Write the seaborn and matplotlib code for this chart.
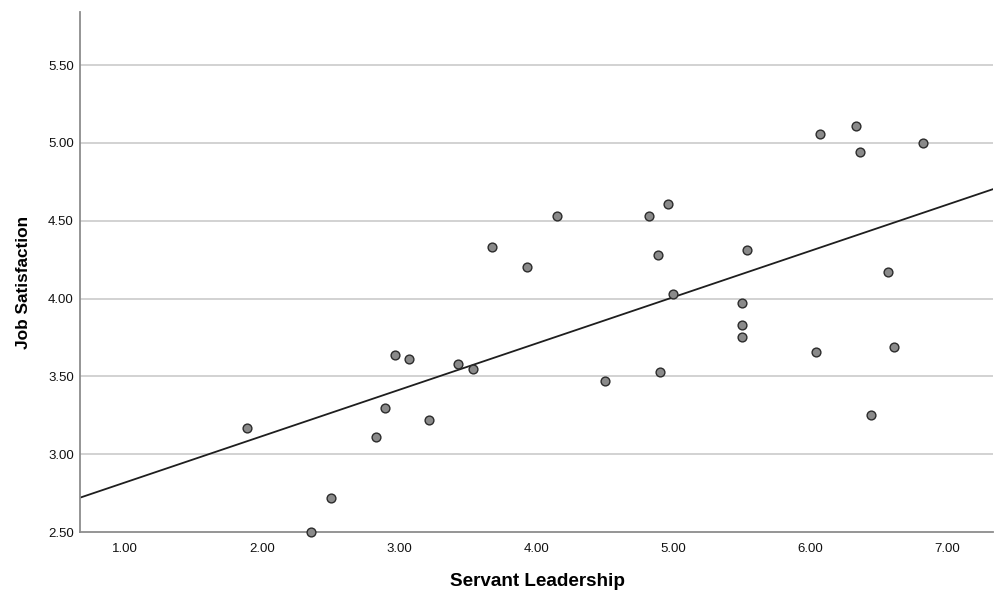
import numpy as np
import pandas as pd
import matplotlib
matplotlib.use("Agg")
import matplotlib.pyplot as plt
import seaborn as sns

# --- DATA ---
servant_leadership = [1.89, 2.36, 2.50, 2.97, 3.07, 2.90, 2.83, 3.22, 3.43, 3.54,
                      4.50, 4.90, 5.50, 5.50, 5.50, 6.04, 6.61, 6.44, 3.68, 3.93,
                      4.15, 4.82, 4.96, 4.89, 5.54, 5.00, 6.07, 6.33, 6.36, 6.82, 6.57]
job_satisfaction = [3.17, 2.50, 2.72, 3.64, 3.61, 3.30, 3.11, 3.22, 3.58, 3.55,
                    3.47, 3.53, 3.97, 3.83, 3.75, 3.66, 3.69, 3.25, 4.33, 4.20,
                    4.53, 4.53, 4.61, 4.28, 4.31, 4.03, 5.06, 5.11, 4.94, 5.00, 4.17]
x_ticks = [1, 2, 3, 4, 5, 6, 7]
y_ticks = [2.5, 3.0, 3.5, 4.0, 4.5, 5.0, 5.5]

df = pd.DataFrame({"Servant Leadership": servant_leadership,
                   "Job Satisfaction": job_satisfaction})

sns.set_style("white")
plt.rcParams["font.family"] = ["Liberation Sans", "DejaVu Sans"]

fig = plt.figure(figsize=(9.97, 6.04), dpi=100)
ax = fig.add_axes([0.0802, 0.119, 0.9158, 0.861])
ax.set_xlim(0.671, 7.333)
ax.set_ylim(2.5, 5.84)

for yv in y_ticks[1:]:
    ax.axhline(yv, color="#cfcfcf", lw=1.3, zorder=0)

sns.regplot(data=df, x="Servant Leadership", y="Job Satisfaction", ax=ax,
            ci=None, truncate=False,
            scatter_kws=dict(s=40, color="#8a8a8a", edgecolors="#2b2b2b",
                             linewidths=1.0, alpha=1, zorder=3, clip_on=False),
            line_kws=dict(color="#1e1e1e", lw=1.3, zorder=2))

ax.set_xlim(0.671, 7.333)
ax.set_ylim(2.5, 5.84)
ax.set_xticks(x_ticks)
ax.set_yticks(y_ticks)
ax.set_xticklabels([f"{v:.2f}" for v in x_ticks])
ax.set_yticklabels([f"{v:.2f}" for v in y_ticks])
ax.tick_params(length=0, labelsize=9.5, colors="#111111")
ax.tick_params(axis="y", pad=4.5)
ax.tick_params(axis="x", pad=8)

for side in ["top", "right"]:
    ax.spines[side].set_visible(False)
for side in ["left", "bottom"]:
    ax.spines[side].set_color("#8c8c8c")
    ax.spines[side].set_linewidth(1.3)

ax.set_xlabel("Servant Leadership", fontsize=13.6, fontweight="bold", color="black")
ax.set_ylabel("Job Satisfaction", fontsize=12.4, fontweight="bold", color="black")
# label centres in figure pixels: y label at x~24, y~282; x label at y~582
ax.yaxis.set_label_coords(24 / 997, 1 - 282 / 604, transform=fig.transFigure)
ax.xaxis.set_label_coords(537 / 997, 1 - 582 / 604, transform=fig.transFigure)
ax.yaxis.label.set_va("center")
ax.xaxis.label.set_va("center")

fig.savefig("out.png", dpi=100)
